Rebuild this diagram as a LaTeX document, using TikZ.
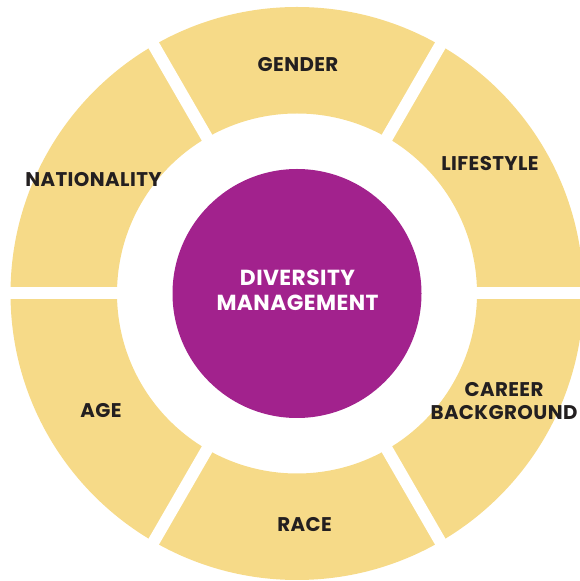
\documentclass[tikz,border=0pt]{standalone}
\usepackage{fontspec}
\setmainfont{Poppins}[LetterSpace=2]
\usetikzlibrary{calc}
\definecolor{ringfill}{HTML}{F6DA88}
\definecolor{hubfill}{HTML}{A2228D}
\definecolor{labelink}{HTML}{231F20}
\begin{document}
\begin{tikzpicture}[x=1pt,y=1pt,
  seglabel/.style={text=labelink,font=\bfseries\fontsize{19.8}{23}\selectfont,align=center,inner sep=0pt},
  hublabel/.style={text=white,font=\bfseries\fontsize{21.8}{25}\selectfont,align=center,inner sep=0pt}]
\useasboundingbox (0,0) rectangle (579,581);
\coordinate (c) at (297,287.5);
% yellow ring
\fill[ringfill,even odd rule] (c) circle[radius=286.5] (c) circle[radius=180];
% white gaps between the six segments
\foreach \a in {0,60,120}
  \draw[white,line width=12] ($(c)+(\a:300)$) -- ($(c)+(\a+180:300)$);
% central disc
\fill[hubfill] (c) circle[radius=124.5];
\node[hublabel] (hub) at (297.5,290.6) {DIVERSITY\\MANAGEMENT};
\node[seglabel] (gender) at (298,516) {GENDER};
\node[seglabel] (lifestyle) at (490,417.5) {LIFESTYLE};
\node[seglabel] (nationality) at (93.5,401.5) {NATIONALITY};
\node[seglabel] (age) at (101,170.5) {AGE};
\node[seglabel] (race) at (304.5,56) {RACE};
\node[seglabel] (career) at (504,179.5) {CAREER\\BACKGROUND};
\end{tikzpicture}
\end{document}
